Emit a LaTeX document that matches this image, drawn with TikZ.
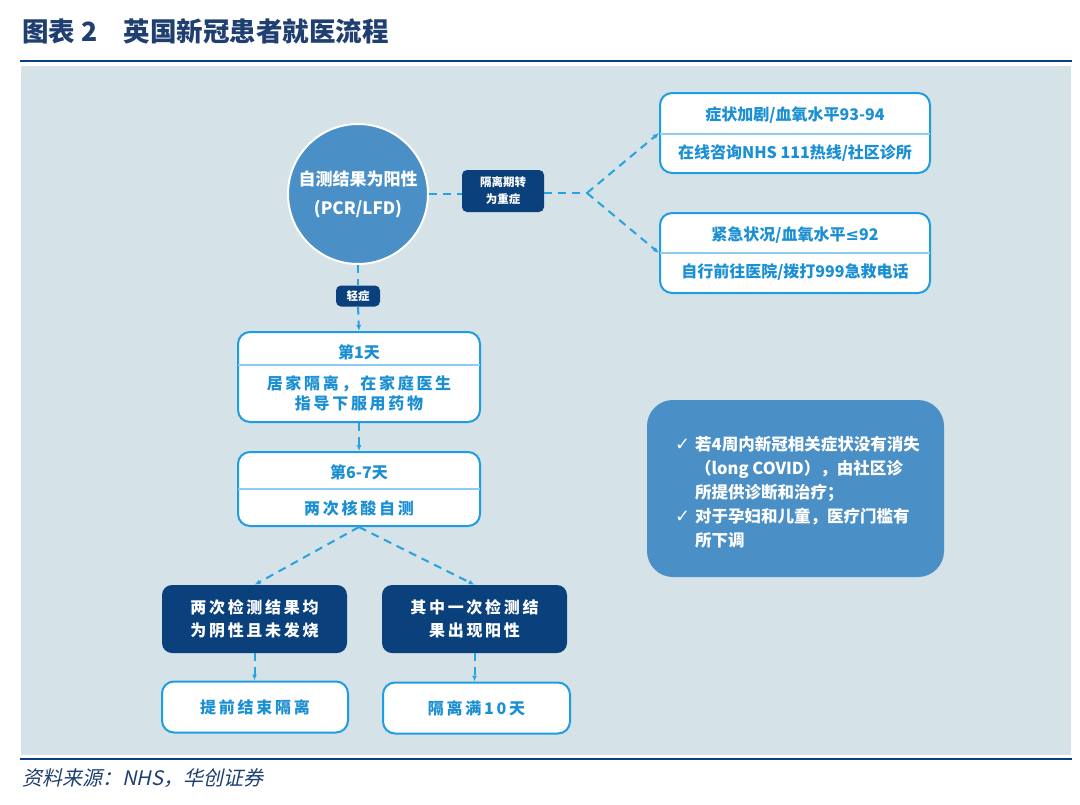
\documentclass[tikz,border=0pt]{standalone}
\usepackage{fontspec}
\usepackage{tikz}
\usepackage{xcolor}
\usetikzlibrary{arrows.meta,positioning}
\setmainfont{Noto Sans CJK SC}
\newfontfamily\widefont[LetterSpace=17]{Noto Sans CJK SC}
\newfontfamily\slantfont[FakeSlant=0.22]{Noto Sans CJK SC}
\newfontfamily\symfont{DejaVu Sans}
\definecolor{hcPanel}{RGB}{213,226,231}
\definecolor{hcRule}{RGB}{14,62,130}
\definecolor{hcTitle}{RGB}{31,63,112}
\definecolor{hcNavy}{RGB}{10,65,125}
\definecolor{hcCircle}{RGB}{74,143,198}
\definecolor{hcSky}{RGB}{30,158,224}
\definecolor{hcInk}{RGB}{27,143,212}
\definecolor{hcPale}{RGB}{140,205,240}
\definecolor{hcDash}{RGB}{38,163,224}
\newcommand{\chk}{{\symfont\fontsize{18}{20}\selectfont ✓}}
\newcommand{\leqsym}{{\symfont\bfseries ≤}}
\tikzset{
  flow/.style={draw=hcDash, line width=2pt, dash pattern=on 8pt off 6pt},
  flowarr/.style={flow, -{Latex[length=6pt,width=5pt]}},
  skybox/.style={draw=hcSky, fill=white, line width=2pt, rounded corners=12pt, inner sep=0pt},
  navybox/.style={fill=hcNavy, rounded corners=10pt, text=white, align=center, inner sep=0pt,
    minimum width=185pt, minimum height=68pt, font=\widefont\fontsize{16}{23}\selectfont\bfseries},
  tagbox/.style={fill=hcNavy, rounded corners=5pt, text=white, align=center, inner sep=0pt,
    font=\fontsize{11.5}{17}\selectfont\bfseries},
  skytext/.style={text=hcInk, align=center, inner sep=0pt, font=\fontsize{16}{20}\selectfont\bfseries},
  widetext/.style={skytext, font=\widefont\fontsize{16}{20}\selectfont\bfseries},
  divider/.style={draw=hcPale, line width=1.2pt},
}

\begin{document}
\begin{tikzpicture}[x=1pt,y=-1pt]
  \useasboundingbox (0,0) rectangle (1080,804);
  \fill[white] (0,0) rectangle (1080,804);
  \node[anchor=west, inner sep=0pt, text=hcTitle, font=\fontsize{26.5}{30}\selectfont\bfseries] (title) at (22,31) {图表 2　英国新冠患者就医流程};
  \fill[hcPanel] (21,66) rectangle (1071,755);
  \draw[hcRule, line width=2.5pt] (20,61) -- (1072,61);
  \draw[hcRule, line width=2.5pt] (20,759) -- (1072,759);
  \node[anchor=west, inner sep=0pt, text=hcTitle, font=\slantfont\fontsize{20}{24}\selectfont] (source) at (22,778) {资料来源：NHS，华创证券};

  \node[circle, fill=hcCircle, draw=white, line width=2pt, minimum size=140pt, inner sep=0pt,
    text=white, align=center, font=\fontsize{17}{29}\selectfont\bfseries] (selftest) at (358,194) {自测结果为阳性\\(PCR/LFD)};
  \node[tagbox, minimum width=82pt, minimum height=42pt] (severe) at (503,191) {隔离期转\\为重症};
  \coordinate (fork) at (587,193);

  \node[skybox, minimum width=270pt, minimum height=80pt] (worse) at (795,133) {};
  \node[skytext] (worseA) at (795,115) {症状加剧/血氧水平93-94};
  \node[skytext] (worseB) at (795,153) {在线咨询NHS 111热线/社区诊所};
  \draw[divider] ([yshift=-1pt,xshift=1pt]worse.west) -- ([yshift=-1pt,xshift=-1pt]worse.east);

  \node[skybox, minimum width=270pt, minimum height=80pt] (urgent) at (795,253) {};
  \node[skytext] (urgentA) at (795,235) {紧急状况/血氧水平\leqsym 92};
  \node[skytext] (urgentB) at (795,272) {自行前往医院/拨打999急救电话};
  \draw[divider] ([xshift=1pt]urgent.west) -- ([xshift=-1pt]urgent.east);

  \node[tagbox, minimum width=44pt, minimum height=21pt] (mild) at (358,296) {轻症};

  \node[skybox, minimum width=242pt, minimum height=90pt] (day1) at (359,377) {};
  \node[skytext] (day1A) at (359,352) {第1天};
  \node[widetext] (day1B) at (359,393) {居家隔离，在家庭医生\\指导下服用药物};
  \draw[divider] ([yshift=12pt,xshift=1pt]day1.west) -- ([yshift=12pt,xshift=-1pt]day1.east);

  \node[skybox, minimum width=242pt, minimum height=74pt] (day6) at (359,489) {};
  \node[skytext] (day6A) at (359,472) {第6-7天};
  \node[widetext] (day6B) at (359,508) {两次核酸自测};
  \draw[divider] ([xshift=1pt]day6.west) -- ([xshift=-1pt]day6.east);

  \node[navybox] (negative) at (254.5,619) {两次检测结果均\\为阴性且未发烧};
  \node[navybox] (positive) at (474.5,619) {其中一次检测结\\果出现阳性};
  \node[skybox, minimum width=186pt, minimum height=51pt, text=hcInk, font=\widefont\fontsize{16}{20}\selectfont\bfseries] (early) at (255,707) {提前结束隔离};
  \node[skybox, minimum width=187pt, minimum height=51pt, text=hcInk, font=\widefont\fontsize{16}{20}\selectfont\bfseries] (tendays) at (476.5,708) {隔离满10天};

  \node[fill=hcCircle, rounded corners=26pt, minimum width=297pt, minimum height=177pt] (note) at (795.5,488.5) {};
  \node[anchor=north west, inner sep=0pt, text=white, align=left, font=\fontsize{16.5}{24}\selectfont\bfseries] (notetext) at (675,436)
    {\makebox[20pt][l]{\chk}若4周内新冠相关症状没有消失\\
     \hspace*{20pt}（long COVID），由社区诊\\
     \hspace*{20pt}所提供诊断和治疗；\\
     \makebox[20pt][l]{\chk}对于孕妇和儿童，医疗门槛有\\
     \hspace*{20pt}所下调};

  \draw[flow] (selftest.east) -- (severe.west |- selftest.east);
  \draw[flow] (severe.east |- fork) -- (fork);
  \draw[flowarr] (fork) -- (worse.west);
  \draw[flowarr] (fork) -- (urgent.west);
  \draw[flow] (selftest.south) -- (mild.north);
  \draw[flowarr] (mild.south) -- (day1.north);
  \draw[flowarr] (day1.south) -- (day6.north);
  \draw[flowarr] (day6.south) -- (negative.north);
  \draw[flowarr] (day6.south) -- (positive.north);
  \draw[flowarr] (negative.south) -- (early.north -| negative.south);
  \draw[flowarr] (positive.south) -- (tendays.north -| positive.south);
\end{tikzpicture}
\end{document}
